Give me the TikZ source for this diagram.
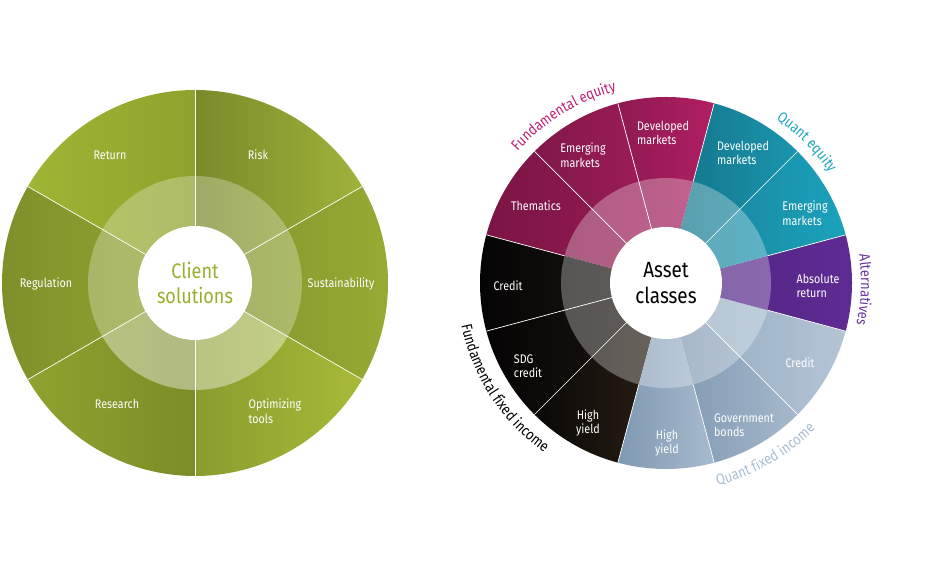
\documentclass[tikz,border=0pt]{standalone}
\usepackage{fontspec}
\setmainfont{Fira Sans}
\newfontfamily\lab[FakeStretch=0.86]{Fira Sans}
\usetikzlibrary{calc,decorations.text}
\definecolor{fe}{HTML}{C01E73}
\definecolor{qe}{HTML}{1AA6C0}
\definecolor{al}{HTML}{6A35A0}
\definecolor{qf}{HTML}{A9BDD3}
\definecolor{cs}{HTML}{9AAD2C}
\tikzset{
 seglab/.style={text=white,font=\lab\fontsize{12.5}{14.5}\selectfont,align=left,inner sep=0pt},
 sep/.style={draw=white,line width=0.7pt},
 ctr/.style={fill=white,draw=none},
}
\begin{document}
\begin{tikzpicture}[x=1pt,y=1pt]
\useasboundingbox (0,0) rectangle (950,572);
\coordinate (lc) at (195,289);
\coordinate (rc) at (666,289);
% ---------- left wheel
\foreach \a/\b/\ca/\cb in {90/150/9FB534/8FA22C, 30/90/7A8A2A/A0B23A, -30/30/7F922C/98AB34, -90/-30/8A9C2E/A8BA36, -150/-90/8FA22E/7C8C28, 150/210/7E8F2A/94A732}{
  \definecolor{tmpa}{HTML}{\ca}\definecolor{tmpb}{HTML}{\cb}
  \shade[left color=tmpa, right color=tmpb] (lc) -- ++(\a:193pt) arc[start angle=\a,end angle=\b,radius=193pt] -- cycle;
}
\fill[white,opacity=0.28] (lc) circle[radius=107pt];
\fill[white,opacity=0.18] (lc) -- ++(-150:107pt) arc[start angle=-150,end angle=-30,radius=107pt] -- cycle;
\foreach \a in {90,30,-30,-90,-150,150}{
  \draw[sep] ($(lc)+(\a:55pt)$) -- ($(lc)+(\a:193pt)$);
}
\fill[ctr] (lc) circle[radius=57pt];
\node[text=cs,font=\lab\fontsize{21}{25}\selectfont,align=center] (cl) at (lc) {Client\\solutions};
\node[seglab] (l1) at (110,417) {Return};
\node[seglab] (l2) at (258,417) {Risk};
\node[seglab] (l3) at (341,288) {Sustainability};
\node[seglab,align=left] (l4) at (275,161) {Optimizing\\tools};
\node[seglab] (l5) at (117,168) {Research};
\node[seglab] (l6) at (46,288) {Regulation};
% ---------- right wheel
\foreach \a/\b/\ca/\cb in {
  75/105/8E1A50/B01E63, 105/135/801848/A31C5B, 135/165/7A1545/9A1A55,
  165/195/050404/1E1814, 195/225/050404/1E1610, 225/255/0A0806/2A2016,
  255/285/7F98B2/A8BACD, 285/315/7E97B0/A6B8CB, 315/345/93AAC0/B3C4D5,
  -15/15/4E2384/5E2B92, 15/45/187F96/1BA2BC, 45/75/137287/1A96AE}{
  \definecolor{tmpa}{HTML}{\ca}\definecolor{tmpb}{HTML}{\cb}
  \shade[left color=tmpa, right color=tmpb] (rc) -- ++(\a:186pt) arc[start angle=\a,end angle=\b,radius=186pt] -- cycle;
}
\fill[white,opacity=0.3] (rc) circle[radius=105pt];
\foreach \a in {105,135,45,195,225,315}{
  \draw[sep] ($(rc)+(\a:55pt)$) -- ($(rc)+(\a:186pt)$);
}
\foreach \a in {75,165,255,285,345,15}{
  \draw[sep] ($(rc)+(\a:105pt)$) -- ($(rc)+(\a:186pt)$);
}
\fill[ctr] (rc) circle[radius=56pt];
\node[text=black,font=\lab\fontsize{22}{26}\selectfont,align=center] (cr) at (rc) {Asset\\classes};
\node[seglab] (r1) at (663,439) {Developed\\markets};
\node[seglab] (r2) at (583,417) {Emerging\\markets};
\node[seglab] (r3) at (536,366) {Thematics};
\node[seglab] (r4) at (508,286) {Credit};
\node[seglab] (r5) at (528,206) {SDG\\credit};
\node[seglab,align=center] (r6) at (588,149) {High\\yield};
\node[seglab,align=center] (r7) at (667,129) {High\\yield};
\node[seglab] (r8) at (744,147) {Government\\bonds};
\node[seglab] (r9) at (800,209) {Credit};
\node[seglab] (r10) at (818,286) {Absolute\\return};
\node[seglab] (r11) at (805,359) {Emerging\\markets};
\node[seglab] (r12) at (743,419) {Developed\\markets};
% group labels along arcs
\path[decorate,decoration={text along path,text align=center,
  text={|\lab\fontsize{15}{17}\selectfont\color{fe}|Fundamental equity}}]
  ($(rc)+(146:198pt)$) arc[start angle=146,end angle=97,radius=198pt];
\path[decorate,decoration={text along path,text align=center,
  text={|\lab\fontsize{15}{17}\selectfont\color{qe}|Quant equity}}]
  ($(rc)+(64:197pt)$) arc[start angle=64,end angle=26,radius=197pt];
\path[decorate,decoration={text along path,text align=center,
  text={|\lab\fontsize{15}{17}\selectfont\color{al}|Alternatives}}]
  ($(rc)+(22:195pt)$) arc[start angle=22,end angle=-26,radius=195pt];
\path[decorate,decoration={text along path,text align=center,
  text={|\lab\fontsize{15}{17}\selectfont\color{black}|Fundamental fixed income}}]
  ($(rc)+(180:209pt)$) arc[start angle=180,end angle=246,radius=209pt];
\path[decorate,decoration={text along path,text align=center,
  text={|\lab\fontsize{15}{17}\selectfont\color{qf}|Quant fixed income}}]
  ($(rc)+(-90:209pt)$) arc[start angle=-90,end angle=-30,radius=209pt];
\end{tikzpicture}
\end{document}
